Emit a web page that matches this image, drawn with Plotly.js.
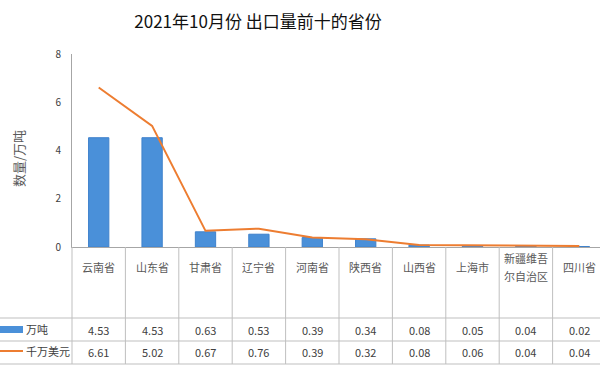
<!DOCTYPE html>
<html><head><meta charset="utf-8">
<script src="https://cdn.plot.ly/plotly-3.0.1.min.js"></script>
<style>html,body{margin:0;padding:0;background:#fff}#c{width:600px;height:369px}</style>
</head><body><div id="c"></div>
<script>
const provinces = ['云南省','山东省','甘肃省','辽宁省','河南省','陕西省','山西省','上海市','新疆维吾<br>尔自治区','四川省'];
const tons = [4.53, 4.53, 0.63, 0.53, 0.39, 0.34, 0.08, 0.05, 0.04, 0.02];
const usd = [6.61, 5.02, 0.67, 0.76, 0.39, 0.32, 0.08, 0.06, 0.04, 0.04];
const seriesNames = ['万吨', '千万美元'];
const yTicks = [0, 2, 4, 6, 8];

const L = 72, T = 54, B = 247, W = 600;
const PW = W - L, PH = B - T;
const px = X => (X - L) / PW;
const py = Y => (B - Y) / PH;
const idx = provinces.map((_, i) => i);
const FONT = '"Noto Sans CJK SC", "Noto Sans", sans-serif';
const lineCol = '#bfbfbf';

const traces = [
  {type: 'bar', x: idx, y: tons, name: seriesNames[0], marker: {color: '#4a90d9', line: {color: '#3f82cc', width: 1}}, hoverinfo: 'y'},
  {type: 'scatter', mode: 'lines', x: idx, y: usd, name: seriesNames[1], line: {color: '#ed7d31', width: 2}, hoverinfo: 'y'}
];

const shapes = [];
for (let k = 1; k < provinces.length; k++) {
  shapes.push({type: 'line', xref: 'x', yref: 'paper', x0: k - 0.5, x1: k - 0.5, y0: 0, y1: py(364), line: {color: lineCol, width: 1}});
}
shapes.push({type: 'line', xref: 'paper', yref: 'paper', x0: 0, x1: 0, y0: 0, y1: py(364), line: {color: lineCol, width: 1}});
[318, 341, 364].forEach(Y => shapes.push({type: 'line', xref: 'paper', yref: 'paper', x0: px(0), x1: px(602), y0: py(Y), y1: py(Y), line: {color: lineCol, width: 1}}));
shapes.push({type: 'rect', xref: 'paper', yref: 'paper', x0: px(0), x1: px(23), y0: py(326), y1: py(333), fillcolor: '#4a90d9', line: {width: 0}});
shapes.push({type: 'line', xref: 'paper', yref: 'paper', x0: px(0), x1: px(23), y0: py(351), y1: py(351), line: {color: '#ed7d31', width: 2}});

const annotations = [];
provinces.forEach((p, i) => {
  const parts = p.split('<br>');
  const lineY = parts.length === 1 ? [267] : [258, 276];
  parts.forEach((t, j) => {
    annotations.push({xref: 'x', yref: 'paper', x: i, y: py(lineY[j]), text: t, showarrow: false, xanchor: 'center', yanchor: 'middle', font: {family: FONT, size: 11, color: '#595959'}});
  });
  annotations.push({xref: 'x', yref: 'paper', x: i, y: py(330), text: tons[i].toFixed(2), showarrow: false, xanchor: 'center', yanchor: 'middle', font: {family: FONT, size: 11, color: '#404040'}});
  annotations.push({xref: 'x', yref: 'paper', x: i, y: py(352), text: usd[i].toFixed(2), showarrow: false, xanchor: 'center', yanchor: 'middle', font: {family: FONT, size: 11, color: '#404040'}});
});
annotations.push({xref: 'paper', yref: 'paper', x: px(24), y: py(329), text: seriesNames[0], showarrow: false, xanchor: 'left', yanchor: 'middle', font: {family: FONT, size: 11, color: '#404040'}});
annotations.push({xref: 'paper', yref: 'paper', x: px(24), y: py(351), text: seriesNames[1], showarrow: false, xanchor: 'left', yanchor: 'middle', font: {family: FONT, size: 11, color: '#404040'}});
annotations.push({xref: 'paper', yref: 'paper', x: px(18), y: py(159), text: '数量/万吨', textangle: -90, showarrow: false, xanchor: 'center', yanchor: 'middle', font: {family: FONT, size: 13, color: '#595959'}});

const layout = {
  width: 600, height: 369,
  margin: {l: L, r: 0, t: T, b: 369 - B, pad: 0},
  paper_bgcolor: '#fff', plot_bgcolor: '#fff',
  showlegend: false,
  bargap: 0.62,
  title: {text: '2021年10月份 出口量前十的省份', x: 258 / 600, xref: 'container', xanchor: 'center', y: 1 - 22 / 369, yanchor: 'middle', yref: 'container', font: {family: FONT, size: 17, color: '#111'}},
  xaxis: {range: [-0.5, -0.5 + PW / 53.4], showticklabels: false, showgrid: false, zeroline: false, showline: true, linecolor: '#a6a6a6', linewidth: 1, ticks: '', fixedrange: true},
  yaxis: {range: [0, 8], tickvals: yTicks, ticktext: yTicks.map(String), showgrid: false, zeroline: false, showline: true, linecolor: '#a6a6a6', linewidth: 1, ticks: '', ticklabelstandoff: 8, tickfont: {family: FONT, size: 10, color: '#404040'}, fixedrange: true},
  shapes, annotations
};
Plotly.newPlot('c', traces, layout, {displayModeBar: false, staticPlot: true});
</script></body></html>
